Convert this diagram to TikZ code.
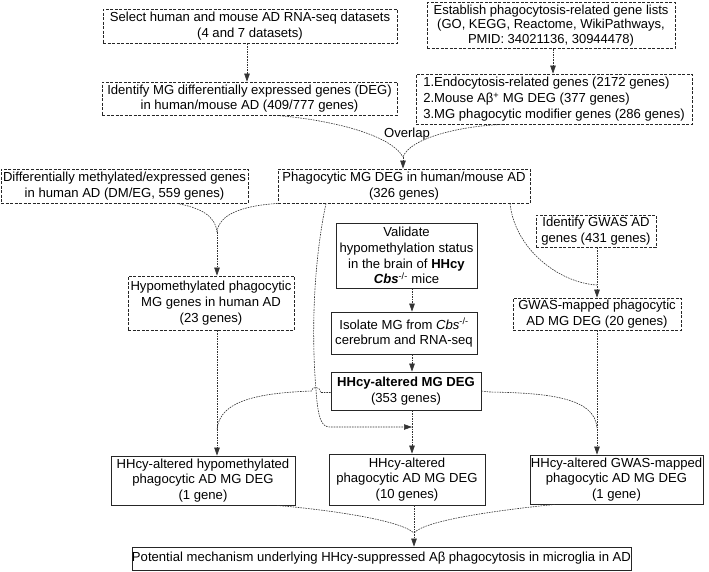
\documentclass[tikz,border=0pt]{standalone}
\usepackage{fontspec}
\setmainfont{Liberation Sans}
\usetikzlibrary{arrows.meta}
\newcommand{\mainfs}{\fontsize{13.1}{15.7}\selectfont}
\newcommand{\tightfs}{\fontsize{13}{14.3}\selectfont}
\tikzset{
  bx/.style={draw=black!85, line width=0.8pt, inner sep=0pt, align=center, font=\mainfs},
  sbox/.style={bx},
  dbox/.style={bx, dash pattern=on 3pt off 1.5pt},
  conn/.style={draw=black!80, line width=0.6pt, dash pattern=on 1.6pt off 1pt},
  arr/.style={-{Triangle[length=8pt,width=5.5pt]}}
}
\begin{document}
\begin{tikzpicture}[x=1pt,y=-1pt]
\useasboundingbox (0,0) rectangle (709,571);
% boxes
\node[dbox, minimum width=294pt, minimum height=34pt] (b1) at (250,26) {Select human and mouse AD RNA-seq datasets\\(4 and 7 datasets)};
\node[dbox, font=\tightfs, minimum width=248pt, minimum height=46pt] (b2) at (551,25.5) {Establish phagocytosis-related gene lists\\(GO, KEGG, Reactome, WikiPathways,\\PMID: 34021136, 30944478)};
\node[dbox, minimum width=295pt, minimum height=33pt] (b3) at (249.5,98.5) {Identify MG differentially expressed genes (DEG)\\in human/mouse AD (409/777 genes)};
\node[dbox, align=left, minimum width=276pt, minimum height=50pt] (b4) at (554,99) {1.Endocytosis-related genes (2172 genes)\\2.Mouse Aβ\textsuperscript{+} MG DEG (377 genes)\\3.MG phagocytic modifier genes (286 genes)};
\node[dbox, minimum width=252pt, minimum height=34pt] (b5) at (404,186) {Phagocytic MG DEG in human/mouse AD\\(326 genes)};
\node[dbox, minimum width=247pt, minimum height=34pt] (b6) at (124.5,186) {Differentially methylated/expressed genes\\in human AD (DM/EG, 559 genes)};
\node[dbox, minimum width=166pt, minimum height=54pt] (b7) at (211,303) {Hypomethylated phagocytic\\MG genes in human AD\\(23 genes)};
\node[sbox, minimum width=141pt, minimum height=65pt] (b8) at (406.5,255.5) {Validate\\hypomethylation status\\in the brain of \textbf{HHcy}\\\textbf{\textit{Cbs}}\textsuperscript{-/-} mice};
\node[sbox, minimum width=146pt, minimum height=42pt] (b9) at (404,333) {Isolate MG from \textit{Cbs}\textsuperscript{-/-}\\cerebrum and RNA-seq};
\node[sbox, minimum width=150pt, minimum height=38pt] (b10) at (406,391) {\textbf{HHcy-altered MG DEG}\\(353 genes)};
\node[dbox, minimum width=120pt, minimum height=32pt] (b11) at (596,231) {Identify GWAS AD\\genes (431 genes)};
\node[dbox, minimum width=168pt, minimum height=32pt] (b12) at (597,314) {GWAS-mapped phagocytic\\AD MG DEG (20 genes)};
\node[sbox, minimum width=184pt, minimum height=49pt] (b13) at (203,480.5) {HHcy-altered hypomethylated\\phagocytic AD MG DEG\\(1 gene)};
\node[sbox, minimum width=156pt, minimum height=51pt] (b14) at (407,479.5) {HHcy-altered\\phagocytic AD MG DEG\\(10 genes)};
\node[sbox, minimum width=173pt, minimum height=49pt] (b15) at (616.5,479.5) {HHcy-altered GWAS-mapped\\phagocytic AD MG DEG\\(1 gene)};
\node[sbox, minimum width=443pt, minimum height=23pt] (b16) at (381.5,558.5) {Potential mechanism underlying HHcy-suppressed Aβ phagocytosis in microglia in AD};
\node[font=\mainfs, inner sep=0pt] (ovl) at (407,134) {Overlap};
% junction coordinates
\coordinate (ov) at (403,157);
\coordinate (m1) at (217,232);
\coordinate (gx) at (597,285);
\coordinate (mx) at (412,427);
\coordinate (lx) at (217,430);
\coordinate (rx) at (597,428);
\coordinate (m3) at (414,533);
% connectors
\draw[conn,arr] ([xshift=-3pt]b1.south) -- ([xshift=-2.5pt]b3.north);
\draw[conn,arr] ([xshift=2pt]b2.south) -- ([xshift=-1pt]b4.north);
\draw[conn] ([xshift=27.5pt]b3.south) .. controls (330,120) and (390,134) .. (ov);
\draw[conn] ([xshift=-51pt]b4.south) .. controls (460,126) and (410,138) .. (ov);
\draw[conn,arr] (ov) -- (ov |- b5.north);
\draw[conn] ([xshift=52.5pt]b6.south) .. controls (200,208) and (215,215) .. (m1);
\draw[conn] (b5.south west) .. controls (240,206) and (219,215) .. (m1);
\draw[conn,arr] (m1) -- (m1 |- b7.north);
\draw[conn] ([xshift=106pt]b5.south) .. controls (515,250) and (560,283) .. (gx);
\draw[conn,arr] (gx |- b11.south) -- (gx |- b12.north);
\draw[conn,arr] (mx |- b8.south) -- (mx |- b9.north);
\draw[conn,arr] (mx |- b9.south) -- (mx |- b10.north);
\draw[conn,arr] (mx |- b10.south) -- (mx |- b14.north);
\draw[conn,arr] ([xshift=-78pt]b5.south) .. controls (314,260) and (311,330) .. (316,390) .. controls (318,420) and (322,427) .. (330,427) -- (mx);
\draw[conn] ([yshift=-1.5pt]b10.west) -- (320.5,392.5) .. controls (320.5,386) and (311.5,386) .. (311.5,391) .. controls (260,393) and (219,400) .. (lx);
\draw[conn,arr] (m1 |- b7.south) -- (m1 |- b13.north);
\draw[conn] (b10.east) -- (490,392) .. controls (550,393) and (595,398) .. (rx);
\draw[conn,arr] (gx |- b12.south) -- (gx |- b15.north);
\draw[conn] ([xshift=74pt]b13.south) .. controls (330,510) and (400,520) .. (m3);
\draw[conn] ([xshift=-61.5pt]b15.south) .. controls (500,510) and (425,520) .. (m3);
\draw[conn,arr] (m3 |- b14.south) -- (m3 |- b16.north);
\end{tikzpicture}
\end{document}
